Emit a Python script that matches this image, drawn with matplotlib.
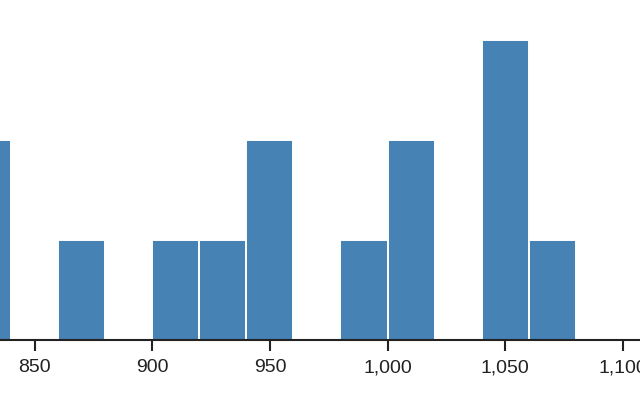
import matplotlib
matplotlib.use("Agg")
import matplotlib.pyplot as plt
from matplotlib.ticker import FuncFormatter

# histogram bins (left edge) and counts, bin width 20
bin_starts = [820, 860, 900, 920, 940, 980, 1000, 1040, 1060]
counts = [2, 1, 1, 1, 2, 1, 2, 3, 1]
bin_width = 20
tick_values = [850, 900, 950, 1000, 1050, 1100]

plt.rcParams['font.family'] = ['Liberation Sans', 'DejaVu Sans']

fig = plt.figure(figsize=(6.4, 4.0), dpi=100)
ax = fig.add_axes([0, 0.15, 1, 0.85])

ax.bar(bin_starts, counts, width=bin_width, align='edge',
       color='#4682b4', edgecolor='white', linewidth=1.4)

ax.set_xlim(835.3, 1107.3)
ax.set_ylim(0, 3.4)

for side in ['top', 'right', 'left']:
    ax.spines[side].set_visible(False)
ax.spines['bottom'].set_linewidth(1.5)
ax.spines['bottom'].set_color('#222222')

ax.set_yticks([])
ax.set_xticks(tick_values)
ax.xaxis.set_major_formatter(FuncFormatter(lambda v, p: f"{int(v):,}"))
ax.tick_params(axis='x', length=8, width=1.5, color='#222222',
               labelsize=14, labelcolor='#222222', pad=6)

plt.savefig('out.png', dpi=100)
plt.close()
